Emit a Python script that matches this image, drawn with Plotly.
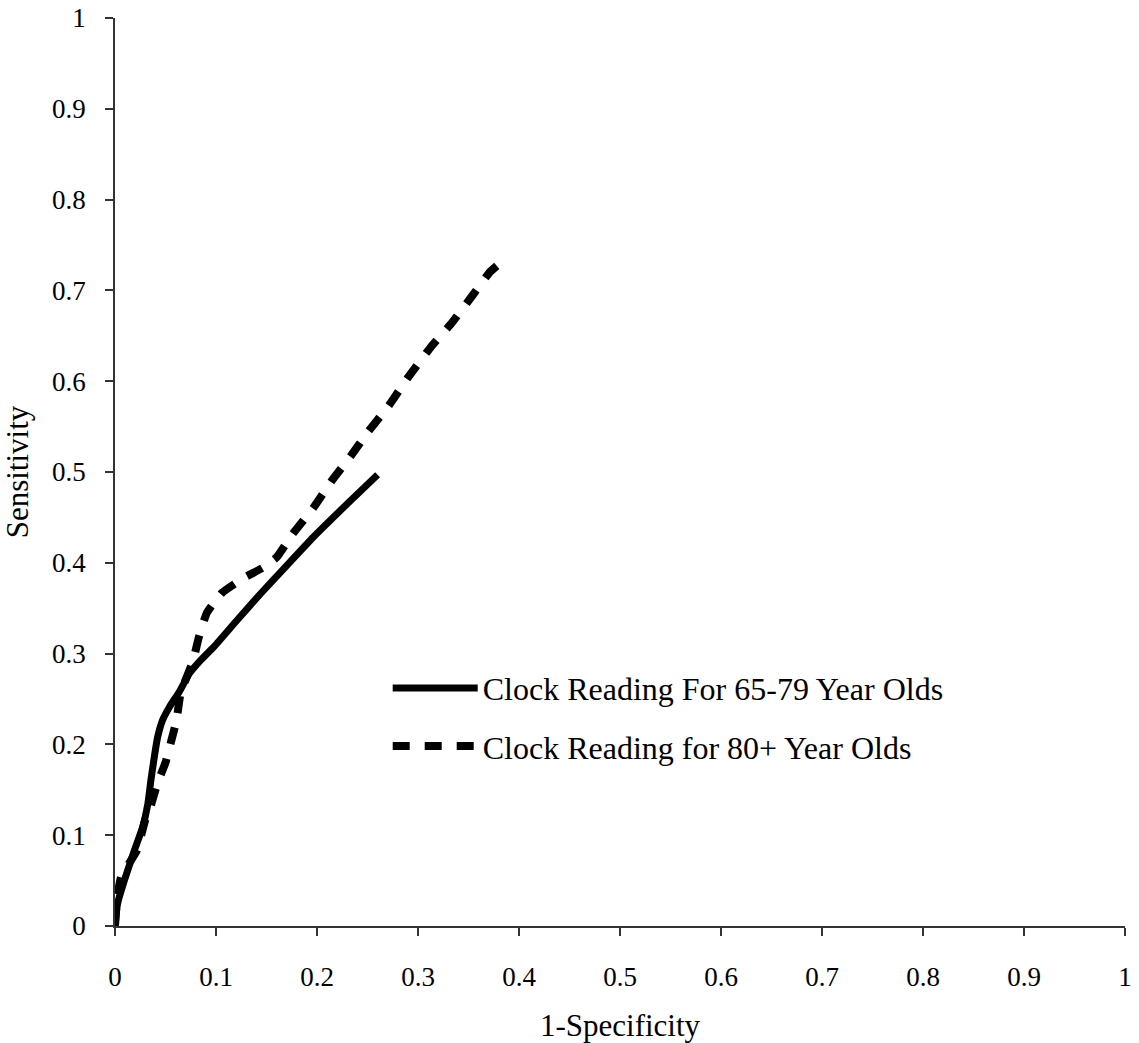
import plotly.graph_objects as go

# 65-79 year olds (solid)
young_x = [0, 0.0026, 0.0092, 0.0191, 0.0274, 0.0323, 0.0356, 0.0389, 0.0422, 0.0472, 0.0538,
           0.0637, 0.0736, 0.0851, 0.0983, 0.121, 0.145, 0.170, 0.197, 0.230, 0.260]
young_y = [0, 0.025, 0.050, 0.083, 0.109, 0.133, 0.161, 0.186, 0.208, 0.227, 0.241,
           0.258, 0.278, 0.293, 0.308, 0.337, 0.367, 0.397, 0.429, 0.465, 0.497]

# 80+ year olds (dashed)
old_x = [0, 0.002, 0.006, 0.014, 0.022, 0.030, 0.035, 0.042, 0.050, 0.055, 0.061, 0.065,
         0.077, 0.083, 0.091, 0.106, 0.127, 0.147, 0.160, 0.176, 0.196, 0.215, 0.233,
         0.251, 0.271, 0.290, 0.313, 0.334, 0.353, 0.371, 0.378]
old_y = [0, 0.030, 0.054, 0.069, 0.084, 0.117, 0.131, 0.157, 0.180, 0.201, 0.227, 0.257,
         0.291, 0.318, 0.345, 0.367, 0.383, 0.395, 0.406, 0.432, 0.460, 0.491, 0.517,
         0.545, 0.573, 0.604, 0.638, 0.665, 0.693, 0.720, 0.727]

series_names = ["Clock Reading For 65-79 Year Olds", "Clock Reading for 80+ Year Olds"]
tick_vals = [0, 0.1, 0.2, 0.3, 0.4, 0.5, 0.6, 0.7, 0.8, 0.9, 1]
tick_text = ["0", "0.1", "0.2", "0.3", "0.4", "0.5", "0.6", "0.7", "0.8", "0.9", "1"]

FONT = "Liberation Serif"

fig = go.Figure()
fig.add_trace(go.Scatter(x=young_x, y=young_y, mode="lines", name=series_names[0],
                         line=dict(color="black", width=7, shape="spline", smoothing=0.5),
                         showlegend=True, legend="legend"))
fig.add_trace(go.Scatter(x=old_x, y=old_y, mode="lines", name=series_names[1],
                         line=dict(color="black", width=8, dash="17px,15px", shape="spline", smoothing=0.4),
                         showlegend=True, legend="legend2"))

axis_common = dict(
    range=[0, 1], tickvals=tick_vals, ticktext=tick_text,
    showgrid=False, zeroline=False, showline=True, linecolor="#333333", linewidth=1.5,
    ticks="outside", ticklen=8, tickwidth=1.5, tickcolor="#333333",
    tickfont=dict(family=FONT, size=27, color="black"),
    fixedrange=True,
)

fig.update_layout(
    width=1139, height=1043,
    showlegend=True,
    margin=dict(l=115, r=14, t=18, b=117, autoexpand=False),
    paper_bgcolor="white", plot_bgcolor="white",
    font=dict(family=FONT, color="black"),
    xaxis=dict(**axis_common, ticklabelstandoff=18,
               title=dict(text="1-Specificity", font=dict(family=FONT, size=31, color="black"), standoff=30)),
    yaxis=dict(**axis_common, ticklabelstandoff=14,
               title=dict(text="Sensitivity", font=dict(family=FONT, size=31, color="black"), standoff=22)),
    legend=dict(x=0.27, y=0.262, xanchor="left", yanchor="middle", itemwidth=85, visible=True,
                font=dict(family=FONT, size=32, color="black"), bgcolor="rgba(0,0,0,0)"),
    legend2=dict(x=0.27, y=0.198, xanchor="left", yanchor="middle", itemwidth=85, visible=True,
                 font=dict(family=FONT, size=32, color="black"), bgcolor="rgba(0,0,0,0)"),
)

fig.write_html("out.html")
